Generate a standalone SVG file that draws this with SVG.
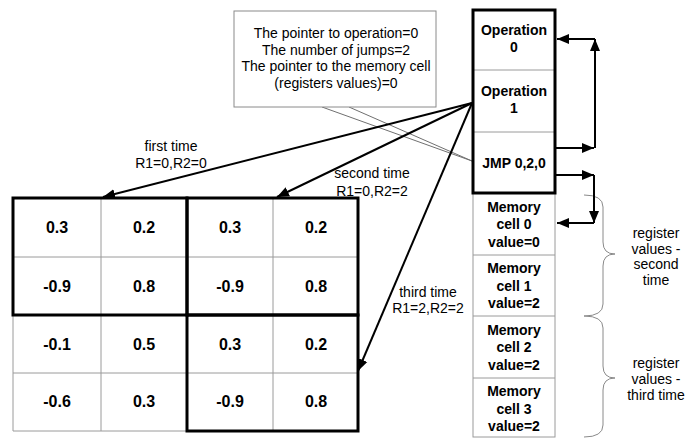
<svg xmlns="http://www.w3.org/2000/svg" width="685" height="438" viewBox="0 0 685 438">
<defs>
<marker id="ah" markerUnits="userSpaceOnUse" markerWidth="14" markerHeight="11" refX="12" refY="5.5" orient="auto">
<path d="M0,0.5 L12,5.5 L0,10.5 Z" fill="#000"/>
</marker>
<style>
text{font-family:"Liberation Sans",Arial,sans-serif;fill:#000}
.lbl{font-size:14px;text-anchor:middle}
.num{font-size:16px;font-weight:bold;text-anchor:middle}
.cell{font-size:14px;font-weight:bold;text-anchor:middle}
.thin{stroke:#9a9a9a;stroke-width:1;fill:none}
.thick{stroke:#000;stroke-width:3;fill:none}
.arr{stroke:#000;stroke-width:2;fill:none;marker-end:url(#ah)}
.brace{stroke:#8a8a8a;stroke-width:1;fill:none}
</style>
</defs>
<rect width="685" height="438" fill="#fff"/>

<g id="callout">
<path d="M322,107 L472,161 M349,107 L472,161" stroke="#707070" stroke-width="1" fill="none"/>
<rect x="234" y="11" width="202" height="96" fill="#fff" stroke="#8a8a8a" stroke-width="1"/>
<text class="lbl" x="336" y="38">The pointer to operation=0</text>
<text class="lbl" x="336" y="54.5">The number of jumps=2</text>
<text class="lbl" x="336" y="71">The pointer to the memory cell</text>
<text class="lbl" x="336" y="87.5">(registers values)=0</text>
</g>

<g id="grid">
<path class="thin" d="M101,198 V431 M273,198 V431 M13,257 H358 M13,373 H358 M13,315 V431 H187"/>
<rect class="thick" x="13" y="198" width="174" height="117"/>
<rect class="thick" x="187" y="198" width="171" height="117"/>
<rect class="thick" x="187" y="315" width="171" height="116"/>
<text class="num" x="57" y="233">0.3</text>
<text class="num" x="144" y="233">0.2</text>
<text class="num" x="230" y="233">0.3</text>
<text class="num" x="316" y="233">0.2</text>
<text class="num" x="57" y="292">-0.9</text>
<text class="num" x="144" y="292">0.8</text>
<text class="num" x="230" y="292">-0.9</text>
<text class="num" x="316" y="292">0.8</text>
<text class="num" x="57" y="350">-0.1</text>
<text class="num" x="144" y="350">0.5</text>
<text class="num" x="230" y="350">0.3</text>
<text class="num" x="316" y="350">0.2</text>
<text class="num" x="57" y="407">-0.6</text>
<text class="num" x="144" y="407">0.3</text>
<text class="num" x="230" y="407">-0.9</text>
<text class="num" x="316" y="407">0.8</text>
</g>

<g id="memory">
<rect x="473" y="193" width="82" height="244" fill="#fff" stroke="#9a9a9a" stroke-width="1"/>
<path class="thin" d="M473,255 H555 M473,316 H555 M473,378 H555"/>
<text class="cell" x="514" y="212">Memory</text>
<text class="cell" x="514" y="229">cell 0</text>
<text class="cell" x="514" y="247">value=0</text>
<text class="cell" x="514" y="273">Memory</text>
<text class="cell" x="514" y="291">cell 1</text>
<text class="cell" x="514" y="308">value=2</text>
<text class="cell" x="514" y="335">Memory</text>
<text class="cell" x="514" y="352">cell 2</text>
<text class="cell" x="514" y="370">value=2</text>
<text class="cell" x="514" y="396">Memory</text>
<text class="cell" x="514" y="414">cell 3</text>
<text class="cell" x="514" y="431">value=2</text>
</g>

<g id="operations">
<rect x="473" y="10" width="82" height="183" fill="#fff"/>
<path class="thin" d="M473,70 H555 M473,132 H555"/>
<rect class="thick" x="473" y="10" width="82" height="183"/>
<text class="cell" x="514" y="35">Operation</text>
<text class="cell" x="514" y="52">0</text>
<text class="cell" x="514" y="96">Operation</text>
<text class="cell" x="514" y="113">1</text>
<text class="cell" x="514" y="168">JMP 0,2,0</text>
</g>

<g id="braces">
<path class="brace" d="M584,195 Q603,195 603,207 L603,242 Q603,254 615,254 Q603,254 603,266 L603,304 Q603,316 584,316"/>
<path class="brace" d="M584,316 Q603,316 603,328 L603,366 Q603,378 615,378 Q603,378 603,390 L603,425 Q603,437 584,437"/>
<text class="lbl" x="656" y="238">register</text>
<text class="lbl" x="656" y="254">values -</text>
<text class="lbl" x="656" y="269">second</text>
<text class="lbl" x="656" y="285">time</text>
<text class="lbl" x="656" y="368">register</text>
<text class="lbl" x="656" y="384">values -</text>
<text class="lbl" x="656" y="400">third time</text>
</g>

<g id="connectors">
<line class="arr" x1="472" y1="103" x2="103" y2="197"/>
<line class="arr" x1="472" y1="103" x2="277" y2="197"/>
<line class="arr" x1="472" y1="103" x2="358" y2="371"/>
<line class="arr" x1="555" y1="148" x2="594" y2="148"/>
<line class="arr" x1="595" y1="148" x2="595" y2="39"/>
<line class="arr" x1="595" y1="39" x2="557" y2="39"/>
<line class="arr" x1="555" y1="175" x2="594" y2="175"/>
<line class="arr" x1="594" y1="175" x2="594" y2="223"/>
<line class="arr" x1="594" y1="223" x2="557" y2="223"/>
<text class="lbl" x="171" y="151">first time</text>
<text class="lbl" x="171" y="168">R1=0,R2=0</text>
<text class="lbl" x="372" y="178">second time</text>
<text class="lbl" x="372" y="196">R1=0,R2=2</text>
<text class="lbl" x="428" y="297">third time</text>
<text class="lbl" x="428" y="313">R1=2,R2=2</text>
</g>
</svg>
